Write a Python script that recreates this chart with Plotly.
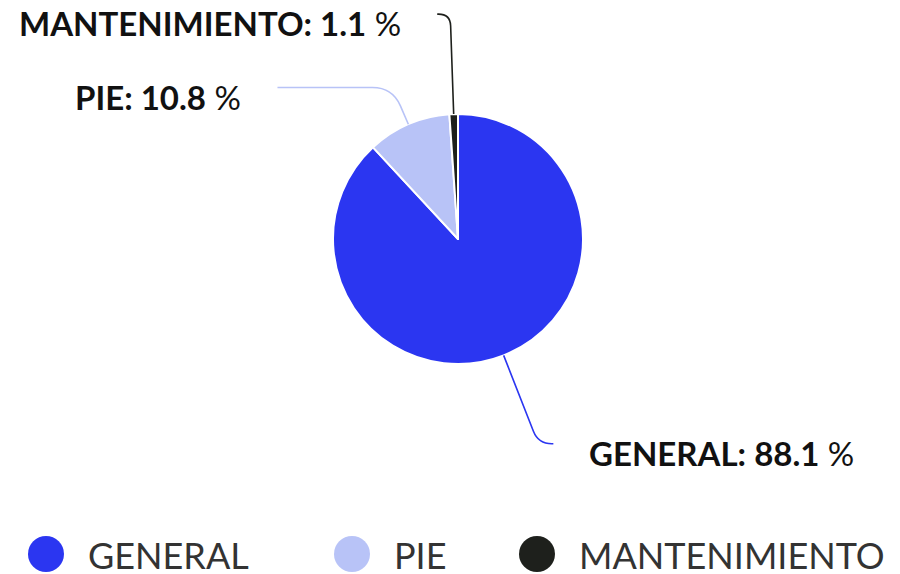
import math
import plotly.graph_objects as go

# ---- data ----
categories = ["GENERAL", "PIE", "MANTENIMIENTO"]
values = [88.1, 10.8, 1.1]
colors = ["#2b36f1", "#b8c3f7", "#1e201c"]

# ---- layout constants (pixels, page coordinates) ----
OFF = 8                     # browser default body margin
W, H = 900 - OFF, 574 - OFF
CX, CY, R = 458, 239, 125
# label line: (first segment length beyond edge, horizontal second segment length)
line_len = {"GENERAL": (95, 15), "PIE": (40, 115), "MANTENIMIENTO": (100, 13)}
LABEL_GAP = 34
FONT = "Lato"


def px(x):
    return (x - OFF) / W


def py(y):
    return 1 - (y - OFF) / H


fig = go.Figure()
fig.add_trace(go.Pie(
    labels=categories, values=values, sort=False, direction="clockwise",
    rotation=0, textinfo="none", hoverinfo="label+percent",
    marker=dict(colors=colors, line=dict(color="white", width=2)),
    domain=dict(x=[px(CX - R), px(CX + R)], y=[py(CY + R), py(CY - R)]),
    showlegend=False,
))

shapes = []
annotations = []
total = sum(values)
cum = 0.0
for name, v, c in zip(categories, values, colors):
    mid = (cum + v / 2) / total * 2 * math.pi
    cum += v
    ux, uy = math.sin(mid), -math.cos(mid)
    l1, l2 = line_len[name]
    ex, ey = CX + R * ux, CY + R * uy
    bx, by = CX + (R + l1) * ux, CY + (R + l1) * uy
    side = 1 if ux >= 0 else -1
    endx, endy = bx + side * l2, by
    # rounded corner
    rc = min(20, l1 * 0.6, max(l2, 1) * 0.9)
    d1 = math.hypot(bx - ex, by - ey)
    p1x, p1y = bx - (bx - ex) / d1 * rc, by - (by - ey) / d1 * rc
    p2x, p2y = bx + side * rc, by
    path = (f"M {px(ex)},{py(ey)} L {px(p1x)},{py(p1y)} "
            f"Q {px(bx)},{py(by)} {px(p2x)},{py(p2y)} L {px(endx)},{py(endy)}")
    shapes.append(dict(type="path", xref="paper", yref="paper", path=path,
                       line=dict(color=c, width=1.6), layer="above"))
    annotations.append(dict(
        xref="paper", yref="paper",
        x=px(endx + side * LABEL_GAP), y=py(endy + 9),
        xanchor="left" if side > 0 else "right", yanchor="middle",
        text=f"<b>{name}: {v:.1f}</b> %", showarrow=False,
        font=dict(family=FONT, size=33, color="#111111"),
    ))

# ---- custom legend (circles + text) ----
legend_x = [46, 352, 537]
LEG_Y = 554
LEG_R = 18
for x0, name, c in zip(legend_x, categories, colors):
    shapes.append(dict(type="circle", xref="paper", yref="paper",
                       x0=px(x0 - LEG_R), x1=px(x0 + LEG_R),
                       y0=py(LEG_Y + LEG_R), y1=py(LEG_Y - LEG_R),
                       fillcolor=c, line=dict(width=0)))
    annotations.append(dict(
        xref="paper", yref="paper", x=px(x0 + 40), y=py(LEG_Y + 1),
        xanchor="left", yanchor="middle", text=name, showarrow=False,
        font=dict(family=FONT, size=36, color="#333333"),
    ))

fig.update_layout(
    width=W, height=H, margin=dict(l=0, r=0, t=0, b=0),
    paper_bgcolor="white", plot_bgcolor="white",
    shapes=shapes, annotations=annotations, showlegend=False,
)
fig.write_html("out.html")
